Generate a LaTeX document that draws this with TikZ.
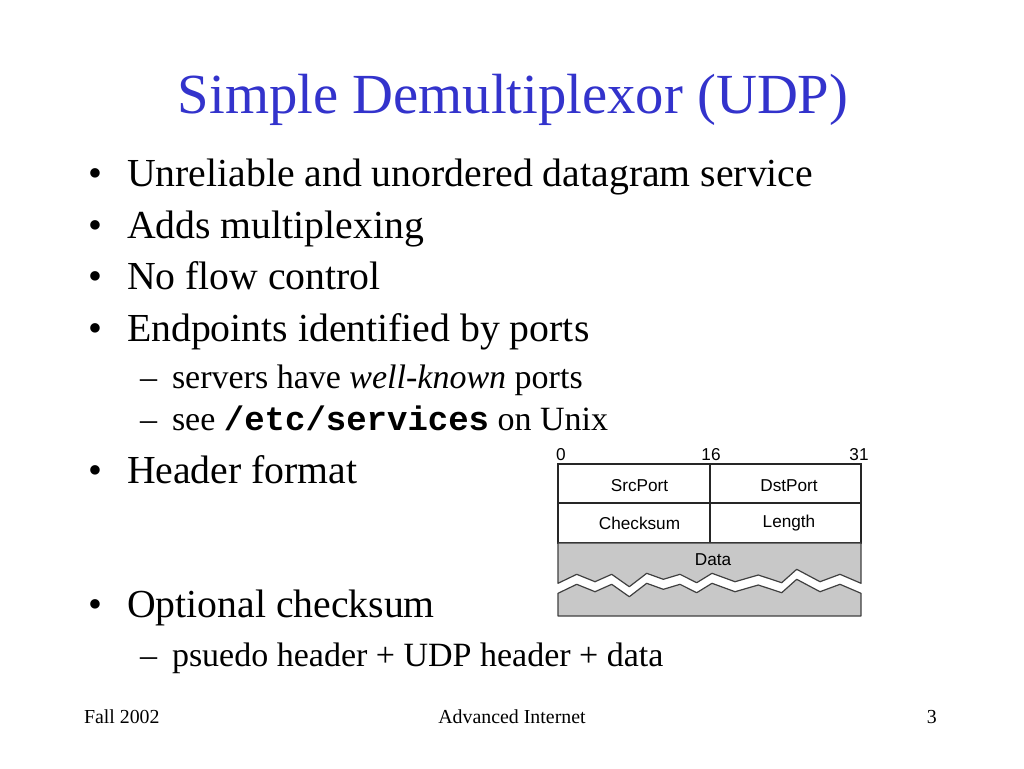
\documentclass[tikz,border=0pt]{standalone}
\usepackage{fontspec}
\setmainfont{Liberation Serif}
\setmonofont{Liberation Mono}
\newfontfamily\arialf{Liberation Sans}
\definecolor{titleblue}{RGB}{51,51,204}
\definecolor{datagray}{RGB}{200,200,200}
\begin{document}
\begin{tikzpicture}[x=0.75pt,y=-0.75pt,
  txt/.style={anchor=base west,inner sep=0pt,outer sep=0pt},
  titlef/.style={font=\fontsize{42.5}{50}\selectfont,text=titleblue},
  mainf/.style={font=\fontsize{29.8}{36}\selectfont},
  subf/.style={font=\fontsize{25.5}{30}\selectfont},
  footf/.style={font=\fontsize{14.9}{18}\selectfont},
  diagf/.style={font=\arialf\fontsize{12.9}{15}\selectfont,inner sep=0pt},
  boxline/.style={draw=black!85,line width=0.9pt},
  datafill/.style={fill=datagray,draw=black!75,line width=0.9pt,line join=round}]
\useasboundingbox (0,0) rectangle (1024,768);
\fill[white] (0,0) rectangle (1024,768);
% title
\node[titlef,anchor=base,inner sep=0pt] (title) at (513,113) {Simple Demultiplexor (UDP)};
% bullets
\foreach \n/\y/\t in {b1/186/{Unreliable and unordered datagram service},
                      b2/238/{Adds multiplexing},
                      b3/289/{No flow control},
                      b4/341/{Endpoints identified by ports},
                      b5/483/{Header format},
                      b6/617/{Optional checksum}}{
  \node[txt,mainf] (\n dot) at (88,\y) {•};
  \node[txt,mainf] (\n) at (127,\y) {\t};
}
\foreach \n/\y/\t in {s1/388/{servers have \textit{well-known} ports},
                      s2/430/{see \textbf{\ttfamily /etc/services} on Unix},
                      s3/666/{psuedo header + UDP header + data}}{
  \node[txt,subf] (\n dash) at (140,\y) {–};
  \node[txt,subf] (\n) at (172,\y) {\t};
}
% footer
\node[txt,footf] (fall) at (84,723) {Fall 2002};
\node[footf,anchor=base,inner sep=0pt] (adv) at (512,723) {Advanced Internet};
\node[footf,anchor=base east,inner sep=0pt] (pg) at (937,723) {3};
% header diagram
\node[diagf] (l0) at (561,455) {0};
\node[diagf] (l16) at (711,455) {16};
\node[diagf] (l31) at (859,455) {31};
\draw[boxline,fill=white] (558,464) rectangle (861,543);
\draw[boxline] (558,503) -- (861,503);
\draw[boxline] (710,464) -- (710,543);
\node[diagf] (src) at (639.5,486) {SrcPort};
\node[diagf] (dst) at (789,486) {DstPort};
\node[diagf] (chk) at (639.5,523) {Checksum};
\node[diagf] (len) at (789,523) {Length};
% data
\draw[datafill] (558,543) -- (861,543) -- (861,583.3)
  -- (840,574.3) -- (820,581.7) -- (796.7,569.3) -- (781.7,582.7) -- (758.3,575)
  -- (735,581.7) -- (712,573.3) -- (696.7,582.7) -- (680,574.3) -- (663.3,579.3)
  -- (646.7,573.3) -- (629.3,586.7) -- (611.7,574.3) -- (595,581.7) -- (576.7,574.3)
  -- (558,583.3) -- cycle;
\draw[datafill] (558,593.3) -- (576.7,584.3) -- (595,591.7) -- (611.7,584.3)
  -- (629.3,596.7) -- (646.7,583.3) -- (663.3,589.3) -- (680,584.3) -- (696.7,592.7)
  -- (712,583.3) -- (735,591.7) -- (758.3,585) -- (781.7,592.7) -- (796.7,579.3)
  -- (820,591.7) -- (840,584.3) -- (861,593.3) -- (861,616) -- (558,616) -- cycle;
\node[diagf] (data) at (713,560) {Data};
\end{tikzpicture}
\end{document}
